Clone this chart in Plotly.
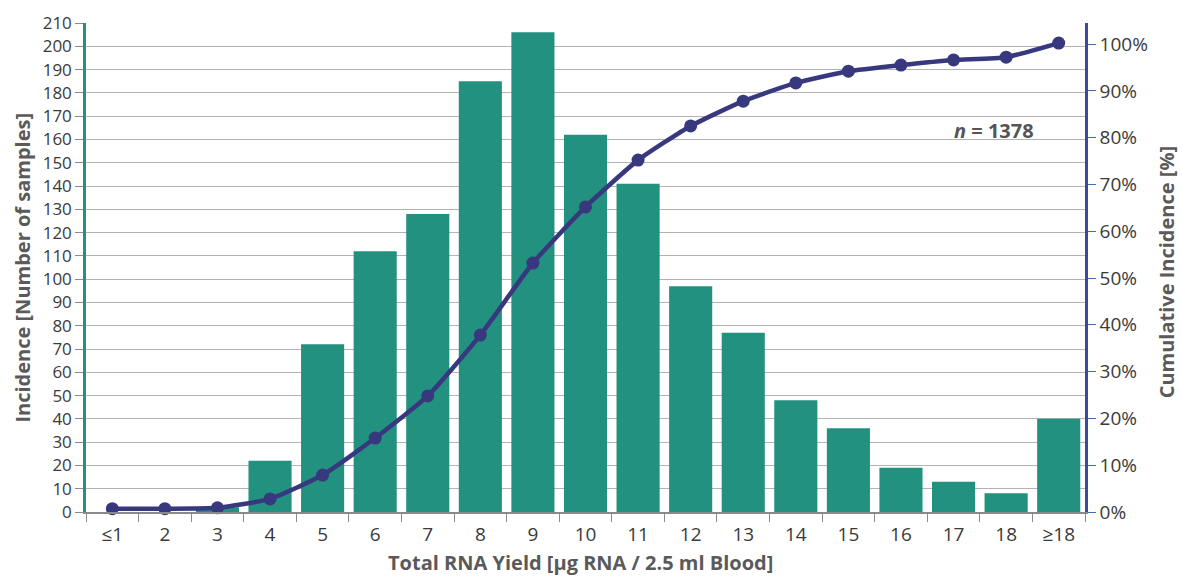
import plotly.graph_objects as go

categories = ["≤1", "2", "3", "4", "5", "6", "7", "8", "9", "10", "11", "12",
              "13", "14", "15", "16", "17", "18", "≥18"]
incidence = [0, 0, 2, 22, 72, 112, 128, 185, 206, 162, 141, 97, 77, 48, 36, 19, 13, 8, 40]
cumulative_pct = [0.7, 0.7, 0.9, 2.8, 7.9, 15.8, 24.8, 37.8, 53.2, 65.2, 75.2, 82.5,
                  87.8, 91.7, 94.2, 95.5, 96.6, 97.2, 100.2]
left_ticks = list(range(0, 211, 10))
right_ticks = list(range(0, 101, 10))
right_tick_labels = [f"{v}%" for v in right_ticks]

TEAL = "#23917f"
NAVY = "#38387f"
FONT = "Open Sans"
TICK_COLOR = "#3a3a3a"
TITLE_COLOR = "#5a5a5a"

fig = go.Figure()
fig.add_trace(go.Bar(x=categories, y=incidence, marker=dict(color=TEAL, line=dict(width=0)),
                     yaxis="y", name="Incidence"))
fig.add_trace(go.Scatter(x=categories, y=cumulative_pct, yaxis="y2", mode="lines+markers",
                         line=dict(color=NAVY, width=4.5, shape="spline", smoothing=0.5),
                         marker=dict(color=NAVY, size=13), cliponaxis=False,
                         name="Cumulative"))

title_font = dict(size=20, color=TITLE_COLOR, family=FONT)

fig.update_layout(
    width=1182, height=577,
    margin=dict(l=86, r=97, t=23, b=65, autoexpand=False),
    paper_bgcolor="white", plot_bgcolor="white",
    showlegend=False,
    bargap=0.18,
    font=dict(family=FONT, color=TICK_COLOR, size=19),
    xaxis=dict(
        type="category", range=[-0.5, 18.5], automargin=False,
        showline=True, linecolor="#8a8a8a", linewidth=1.5,
        ticks="outside", tickson="boundaries", ticklen=8, tickcolor="#8a8a8a",
        ticklabelstandoff=4,
        tickfont=dict(size=19, color=TICK_COLOR),
        showgrid=False, zeroline=False,
    ),
    yaxis=dict(
        range=[0, 210], tickvals=left_ticks, automargin=False,
        showline=True, linecolor=TEAL, linewidth=2.5,
        ticks="outside", ticklen=8, tickcolor="#8a8a8a",
        tickfont=dict(size=17, color=TICK_COLOR),
        showgrid=True, gridcolor="#b3b3b3", gridwidth=1, zeroline=False,
    ),
    yaxis2=dict(
        range=[0, 104.5], tickvals=right_ticks, ticktext=right_tick_labels, automargin=False,
        overlaying="y", side="right", showline=True, linecolor="#3d4a9c", linewidth=2.5,
        ticks="outside", ticklen=8, tickcolor="#3d6fb0",
        tickfont=dict(size=19, color=TICK_COLOR),
        showgrid=False, zeroline=False,
    ),
    annotations=[
        dict(text="<b><i>n</i> = 1378</b>", xref="paper", yref="paper",
             x=0.951, y=0.781, xanchor="right", yanchor="middle", showarrow=False,
             font=dict(size=20, color="#555555", family=FONT)),
        dict(text="<b>Total RNA Yield [µg RNA / 2.5 ml Blood]</b>", xref="paper", yref="paper",
             x=0.4945, y=-0.103, xanchor="center", yanchor="middle", showarrow=False,
             font=title_font),
        dict(text="<b>Incidence [Number of samples]</b>", xref="paper", yref="paper",
             x=-0.064, y=0.50, xanchor="center", yanchor="middle", showarrow=False,
             textangle=-90, font=title_font),
        dict(text="<b>Cumulative Incidence [%]</b>", xref="paper", yref="paper",
             x=1.081, y=0.49, xanchor="center", yanchor="middle", showarrow=False,
             textangle=-90, font=title_font),
    ],
)

fig.write_html("out.html", config={"displayModeBar": False},
               post_script="document.body.style.margin='0';")
